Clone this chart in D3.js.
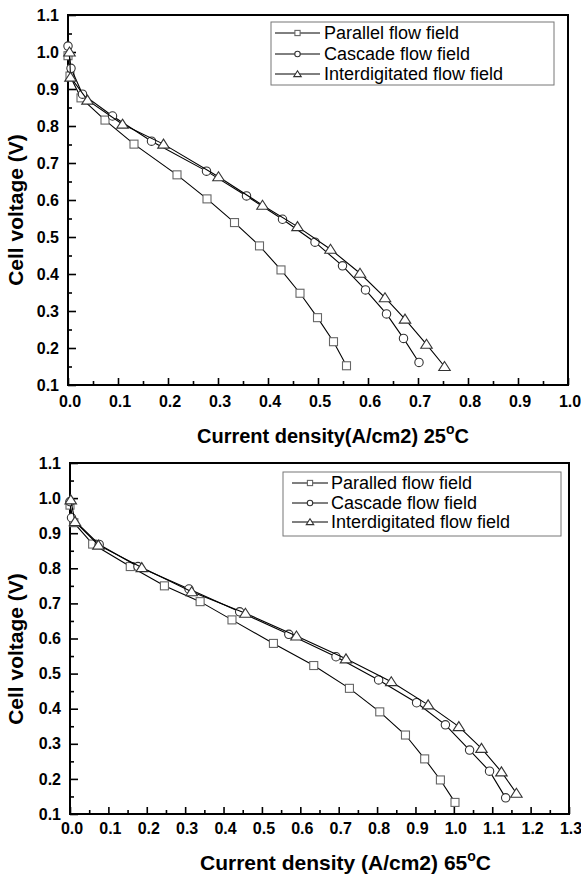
<!DOCTYPE html>
<html><head><meta charset="utf-8">
<script src="https://cdn.jsdelivr.net/npm/d3@7"></script>
<style>
html,body{margin:0;padding:0;background:#fff;}
svg text{font-family:"Liberation Sans",Arial,Helvetica,sans-serif;}
</style></head>
<body>
<svg id="chart" width="581" height="878"></svg>
<script>
// ---- Data: 25 °C ----
const seriesNames25 = ["Parallel flow field", "Cascade flow field", "Interdigitated flow field"];
const parallel25X = [0.000, 0.004, 0.026, 0.074, 0.132, 0.218, 0.278, 0.333, 0.383, 0.426, 0.464, 0.499, 0.531, 0.557];
const parallel25Y = [0.990, 0.935, 0.876, 0.816, 0.751, 0.668, 0.603, 0.539, 0.476, 0.411, 0.348, 0.282, 0.217, 0.152];
const cascade25X = [0.000, 0.006, 0.029, 0.089, 0.167, 0.277, 0.357, 0.429, 0.494, 0.549, 0.595, 0.637, 0.671, 0.702];
const cascade25Y = [1.016, 0.956, 0.886, 0.827, 0.759, 0.678, 0.611, 0.548, 0.486, 0.422, 0.357, 0.292, 0.226, 0.161];
const inter25X = [0.003, 0.005, 0.039, 0.109, 0.191, 0.301, 0.389, 0.459, 0.525, 0.584, 0.634, 0.674, 0.717, 0.753];
const inter25Y = [1.000, 0.932, 0.870, 0.805, 0.751, 0.663, 0.586, 0.528, 0.467, 0.402, 0.336, 0.278, 0.210, 0.150];
// ---- Data: 65 °C ----
const seriesNames65 = ["Paralled flow field", "Cascade flow field", "Interdigitated flow field"];
const parallel65X = [0.000, 0.010, 0.059, 0.157, 0.246, 0.339, 0.422, 0.530, 0.635, 0.728, 0.807, 0.874, 0.924, 0.965, 1.003];
const parallel65Y = [0.980, 0.930, 0.869, 0.805, 0.750, 0.705, 0.653, 0.586, 0.523, 0.458, 0.391, 0.325, 0.257, 0.197, 0.133];
const cascade65X = [0.000, 0.004, 0.076, 0.177, 0.310, 0.442, 0.570, 0.693, 0.804, 0.903, 0.978, 1.041, 1.093, 1.135];
const cascade65Y = [0.990, 0.944, 0.868, 0.805, 0.741, 0.676, 0.612, 0.548, 0.482, 0.417, 0.354, 0.282, 0.222, 0.146];
const inter65X = [0.002, 0.013, 0.074, 0.187, 0.317, 0.457, 0.590, 0.719, 0.837, 0.933, 1.013, 1.072, 1.124, 1.163];
const inter65Y = [0.995, 0.933, 0.866, 0.802, 0.733, 0.672, 0.607, 0.542, 0.477, 0.411, 0.349, 0.287, 0.220, 0.159];
// ---- Ticks ----
const xTicks25 = [0.0, 0.1, 0.2, 0.3, 0.4, 0.5, 0.6, 0.7, 0.8, 0.9, 1.0];
const xTicks65 = [0.0, 0.1, 0.2, 0.3, 0.4, 0.5, 0.6, 0.7, 0.8, 0.9, 1.0, 1.1, 1.2, 1.3];
const yTicks = [0.1, 0.2, 0.3, 0.4, 0.5, 0.6, 0.7, 0.8, 0.9, 1.0, 1.1];
const yLabel = "Cell voltage (V)";
const xLabel25 = ["Current density(A/cm2) 25", "o", "C"];
const xLabel65 = ["Current density (A/cm2) 65", "o", "C"];

const markerTypes = ["square", "circle", "triangle"];
const markerStroke = ["#666", "#333", "#333"];

const svg = d3.select("#chart");

function zip(xs, ys){ return xs.map((x,i)=>({x:x, y:ys[i]})); }

function drawPanel(cfg){
  const g = svg.append("g");
  const x = d3.scaleLinear().domain(cfg.xDomain).range([cfg.left, cfg.right]);
  const y = d3.scaleLinear().domain([0.1, 1.1]).range([cfg.bottom, cfg.top]);

  const xMinor = [];
  for (let i=0;i<cfg.xTicks.length-1;i++) xMinor.push((cfg.xTicks[i]+cfg.xTicks[i+1])/2);
  const yMinor = [];
  for (let i=0;i<yTicks.length-1;i++) yMinor.push((yTicks[i]+yTicks[i+1])/2);

  g.append("g").attr("transform", `translate(0,${cfg.bottom})`)
    .call(d3.axisBottom(x).tickValues(xMinor).tickSizeInner(-4).tickSizeOuter(0).tickFormat(""))
    .call(a=>a.select(".domain").remove())
    .call(a=>a.selectAll("line").attr("stroke","#000").attr("stroke-width",1.6));
  g.append("g").attr("transform", `translate(${cfg.left},0)`)
    .call(d3.axisLeft(y).tickValues(yMinor).tickSizeInner(-4).tickSizeOuter(0).tickFormat(""))
    .call(a=>a.select(".domain").remove())
    .call(a=>a.selectAll("line").attr("stroke","#000").attr("stroke-width",1.6));

  const xa = g.append("g").attr("transform", `translate(0,${cfg.bottom})`)
    .call(d3.axisBottom(x).tickValues(cfg.xTicks).tickSizeInner(-7).tickSizeOuter(0).tickPadding(cfg.xPad).tickFormat(d3.format(".1f")));
  xa.select(".domain").remove();
  xa.selectAll("line").attr("stroke","#000").attr("stroke-width",1.6);
  xa.selectAll("text").attr("fill","#000").attr("font-size","16px").attr("font-weight","bold")
    .attr("font-family","Liberation Sans, Arial, sans-serif").attr("dx", 1.5);

  const ya = g.append("g").attr("transform", `translate(${cfg.left},0)`)
    .call(d3.axisLeft(y).tickValues(yTicks).tickSizeInner(-8).tickSizeOuter(0).tickPadding(9).tickFormat(d3.format(".1f")));
  ya.select(".domain").remove();
  ya.selectAll("line").attr("stroke","#000").attr("stroke-width",1.6);
  ya.selectAll("text").attr("fill","#000").attr("font-size","16px").attr("font-weight","bold")
    .attr("font-family","Liberation Sans, Arial, sans-serif");

  g.append("rect").attr("x", cfg.left).attr("y", cfg.top)
    .attr("width", cfg.right-cfg.left).attr("height", cfg.bottom-cfg.top)
    .attr("fill","none").attr("stroke","#000").attr("stroke-width",2);

  const line = d3.line().x(d=>x(d.x)).y(d=>y(d.y));
  cfg.series.forEach((s,i)=>{
    const pts = zip(s[0], s[1]);
    g.append("path").datum(pts).attr("d", line).attr("fill","none")
      .attr("stroke","#000").attr("stroke-width",1.1);
    pts.forEach(p=>drawMarker(g, markerTypes[i], x(p.x), y(p.y), 4, markerStroke[i]));
  });

  const L = cfg.legend;
  g.append("rect").attr("x", L.x).attr("y", L.y).attr("width", L.w).attr("height", L.h)
    .attr("fill","#fff").attr("stroke","#777").attr("stroke-width",1);
  cfg.names.forEach((n,i)=>{
    const ry = L.rows[i];
    g.append("line").attr("x1", L.lx1).attr("x2", L.lx2).attr("y1", ry).attr("y2", ry)
      .attr("stroke","#000").attr("stroke-width",1);
    drawMarker(g, markerTypes[i], (L.lx1+L.lx2)/2, ry, 2.6, markerStroke[i]);
    g.append("text").attr("x", L.tx).attr("y", ry).attr("dy","0.36em")
      .attr("font-size","18px").attr("fill","#000").text(n);
  });

  const t = g.append("text").attr("x", cfg.xTitleX).attr("y", cfg.xTitleY)
    .attr("text-anchor","start").attr("font-size", cfg.xTitleSize + "px").attr("font-weight","bold").attr("fill","#000");
  t.append("tspan").text(cfg.xLabel[0]);
  t.append("tspan").attr("dy", -9).attr("font-size","14px").text(cfg.xLabel[1]);
  t.append("tspan").attr("dy", 9).text(cfg.xLabel[2]);

  g.append("text").attr("transform", `translate(${cfg.yTitleX},${cfg.yTitleY}) rotate(-90)`)
    .attr("text-anchor","middle").attr("font-size","21px").attr("font-weight","bold").attr("fill","#000")
    .text(yLabel);
}

function drawMarker(g, type, cx, cy, r, stroke){
  if (type === "square"){
    g.append("rect").attr("x", cx-r).attr("y", cy-r).attr("width", 2*r).attr("height", 2*r)
      .attr("fill","#fff").attr("stroke", stroke).attr("stroke-width",1.1);
  } else if (type === "circle"){
    g.append("circle").attr("cx", cx).attr("cy", cy).attr("r", r*1.05)
      .attr("fill","#fff").attr("stroke", stroke).attr("stroke-width",1.1);
  } else {
    const h = r*1.25;
    g.append("path").attr("d", `M${cx},${cy-h}L${cx+h*1.15},${cy+h*0.8}L${cx-h*1.15},${cy+h*0.8}Z`)
      .attr("fill","#fff").attr("stroke", stroke).attr("stroke-width",1.1);
  }
}

drawPanel({
  left: 68, right: 568, top: 15, bottom: 385,
  xDomain: [0, 1.0], xTicks: xTicks25, xPad: 11,
  series: [[parallel25X, parallel25Y],[cascade25X, cascade25Y],[inter25X, inter25Y]],
  names: seriesNames25,
  legend: {x: 271, y: 22, w: 283, h: 63, rows: [33, 54, 74], lx1: 275, lx2: 320, tx: 324},
  xLabel: xLabel25, xTitleX: 197, xTitleY: 443, xTitleSize: 20,
  yTitleX: 23, yTitleY: 210
});
drawPanel({
  left: 70, right: 569, top: 463, bottom: 814,
  xDomain: [0, 1.3], xTicks: xTicks65, xPad: 9,
  series: [[parallel65X, parallel65Y],[cascade65X, cascade65Y],[inter65X, inter65Y]],
  names: seriesNames65,
  legend: {x: 283, y: 472, w: 278, h: 64, rows: [483, 503, 522], lx1: 292, lx2: 328, tx: 331},
  xLabel: xLabel65, xTitleX: 200, xTitleY: 870, xTitleSize: 21,
  yTitleX: 23, yTitleY: 649
});
</script>
</body></html>
